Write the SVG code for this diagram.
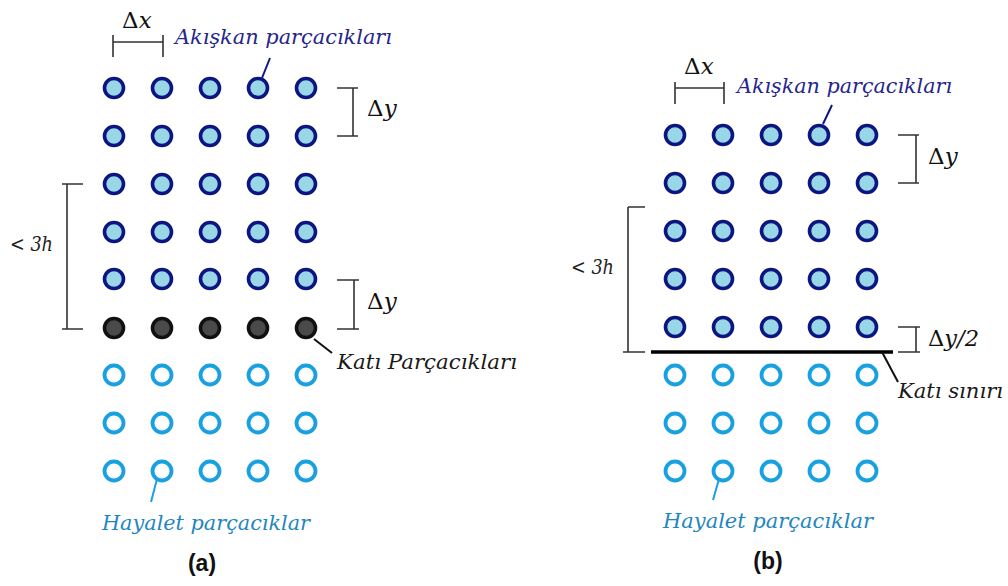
<svg xmlns="http://www.w3.org/2000/svg" width="1008" height="586" viewBox="0 0 1008 586">
<style>
.fl{fill:#99d6e8;stroke:#0d1680;stroke-width:3.6}
.so{fill:#4a4a4a;stroke:#111;stroke-width:3.6}
.gh{fill:#fff;stroke:#18a0e0;stroke-width:3.8}
.br{stroke:#333;stroke-width:1.6;fill:none}
.ld{stroke-width:2;fill:none}
.lab{font-family:"DejaVu Serif","Liberation Serif",serif;font-style:italic;font-size:21px}
.math{font-family:"DejaVu Serif","Liberation Serif",serif;font-size:23px;fill:#111}
.cap{font-family:"Liberation Sans",Arial,sans-serif;font-weight:bold;font-size:23px;fill:#111;text-anchor:middle}
</style>
<defs>
<g id="rowF"><circle class="fl" cx="0" cy="0" r="9.5"/><circle class="fl" cx="48" cy="0" r="9.5"/><circle class="fl" cx="96" cy="0" r="9.5"/><circle class="fl" cx="144" cy="0" r="9.5"/><circle class="fl" cx="192" cy="0" r="9.5"/></g>
<g id="rowS"><circle class="so" cx="0" cy="0" r="9.5"/><circle class="so" cx="48" cy="0" r="9.5"/><circle class="so" cx="96" cy="0" r="9.5"/><circle class="so" cx="144" cy="0" r="9.5"/><circle class="so" cx="192" cy="0" r="9.5"/></g>
<g id="rowG"><circle class="gh" cx="0" cy="0" r="9.5"/><circle class="gh" cx="48" cy="0" r="9.5"/><circle class="gh" cx="96" cy="0" r="9.5"/><circle class="gh" cx="144" cy="0" r="9.5"/><circle class="gh" cx="192" cy="0" r="9.5"/></g>
</defs>

<!-- Panel (a) -->
<g id="a-fluid">
<use href="#rowF" x="114" y="88"/>
<use href="#rowF" x="114" y="136"/>
<use href="#rowF" x="114" y="184"/>
<use href="#rowF" x="114" y="232"/>
<use href="#rowF" x="114" y="279"/>
</g>
<g id="a-solid"><use href="#rowS" x="114" y="328"/></g>
<g id="a-ghost">
<use href="#rowG" x="114" y="375"/>
<use href="#rowG" x="114" y="423"/>
<use href="#rowG" x="114" y="471"/>
</g>

<!-- Panel (b) -->
<g id="b-fluid">
<use href="#rowF" x="675" y="135"/>
<use href="#rowF" x="675" y="183"/>
<use href="#rowF" x="675" y="231"/>
<use href="#rowF" x="675" y="279"/>
<use href="#rowF" x="675" y="327"/>
</g>
<g id="b-wall"><line x1="651" y1="352" x2="893" y2="352" stroke="#000" stroke-width="3.5"/></g>
<g id="b-ghost">
<use href="#rowG" x="675" y="375"/>
<use href="#rowG" x="675" y="423"/>
<use href="#rowG" x="675" y="471"/>
</g>

<g id="connectors">
<!-- (a) brackets -->
<path class="br" d="M113,35 V57 M113,42 H163 M163,35 V57"/>
<path class="br" d="M337,88 H358 M353,88 V136 M337,136 H358"/>
<path class="br" d="M62,184 H83 M67,184 V329 M62,329 H83"/>
<path class="br" d="M337,280 H359 M354,280 V329 M337,329 H359"/>
<!-- (a) leaders -->
<line class="ld" x1="270" y1="58" x2="262" y2="78" stroke="#0d1680"/>
<line class="ld" x1="314" y1="339" x2="332" y2="353" stroke="#111"/>
<line class="ld" x1="157" y1="479" x2="151" y2="502" stroke="#18a0e0"/>
<!-- (b) brackets -->
<path class="br" d="M675,82 V104 M675,88 H724 M724,82 V104"/>
<path class="br" d="M898,135 H919 M916,135 V183 M898,183 H919"/>
<path class="br" d="M628,207 H645 M628,207 V352 M623,352 H645"/>
<path class="br" d="M898,327 H920 M916,327 V352 M898,352 H920"/>
<!-- (b) leaders -->
<line class="ld" x1="832" y1="105" x2="823" y2="124" stroke="#0d1680"/>
<line class="ld" x1="882" y1="352" x2="898" y2="382" stroke="#111"/>
<line class="ld" x1="719" y1="479" x2="713" y2="500" stroke="#18a0e0"/>
</g>

<g id="labels">
<text class="lab" x="175" y="44" fill="#26268a" textLength="217" lengthAdjust="spacingAndGlyphs">Akışkan parçacıkları</text>
<text class="math" x="122" y="28">Δ<tspan font-style="italic">x</tspan></text>
<text class="math" x="367" y="116">Δ<tspan font-style="italic">y</tspan></text>
<text class="math" x="367" y="309">Δ<tspan font-style="italic">y</tspan></text>
<text class="lab" x="10" y="251" fill="#222" font-size="22" textLength="43" lengthAdjust="spacingAndGlyphs">&lt; 3h</text>
<text class="lab" x="337" y="369" fill="#1a1a1a" textLength="180" lengthAdjust="spacingAndGlyphs">Katı Parçacıkları</text>
<text class="lab" x="102" y="530" fill="#1e86c0" textLength="208" lengthAdjust="spacingAndGlyphs">Hayalet parçacıklar</text>
<text class="cap" x="202" y="571">(a)</text>

<text class="lab" x="737" y="93" fill="#26268a" textLength="215" lengthAdjust="spacingAndGlyphs">Akışkan parçacıkları</text>
<text class="math" x="684" y="74">Δ<tspan font-style="italic">x</tspan></text>
<text class="math" x="928" y="164">Δ<tspan font-style="italic">y</tspan></text>
<text class="lab" x="571" y="274" fill="#222" font-size="22" textLength="43" lengthAdjust="spacingAndGlyphs">&lt; 3h</text>
<text class="math" x="928" y="346" textLength="51" lengthAdjust="spacingAndGlyphs">Δ<tspan font-style="italic">y/2</tspan></text>
<text class="lab" x="898" y="398" fill="#1a1a1a" textLength="105" lengthAdjust="spacingAndGlyphs">Katı sınırı</text>
<text class="lab" x="663" y="528" fill="#1e86c0" textLength="210" lengthAdjust="spacingAndGlyphs">Hayalet parçacıklar</text>
<text class="cap" x="768" y="569">(b)</text>
</g>
</svg>
